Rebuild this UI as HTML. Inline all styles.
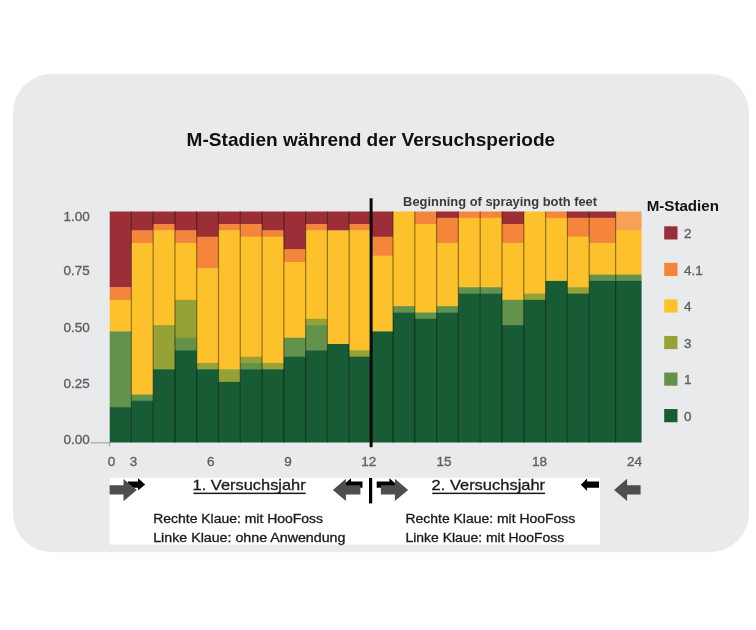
<!DOCTYPE html>
<html lang="de"><head><meta charset="utf-8"><title>M-Stadien während der Versuchsperiode</title>
<style>
html,body{margin:0;padding:0;background:#fff;}
body{width:756px;height:630px;overflow:hidden;position:relative;font-family:"Liberation Sans",sans-serif;}
svg{position:absolute;left:0;top:0;display:block;}
svg text{font-family:"Liberation Sans",sans-serif;}
</style></head><body>
<svg width="756" height="630" viewBox="0 0 756 630">
<rect x="13" y="73.8" width="736" height="478.4" rx="39" ry="39" fill="#e9eaeb"/>
<g>
<rect x="109.70" y="211.50" width="21.98" height="76.02" fill="#9c2e38"/>
<rect x="109.70" y="287.22" width="21.98" height="12.92" fill="#f4853a"/>
<rect x="109.70" y="299.84" width="21.98" height="31.85" fill="#fdc22b"/>
<rect x="109.70" y="331.39" width="21.98" height="76.02" fill="#63924b"/>
<rect x="109.70" y="407.11" width="21.98" height="35.39" fill="#185c35"/>
<rect x="131.38" y="211.50" width="22.08" height="19.23" fill="#9c2e38"/>
<rect x="131.38" y="230.43" width="22.08" height="12.92" fill="#f4853a"/>
<rect x="131.38" y="243.05" width="22.08" height="151.74" fill="#fdc22b"/>
<rect x="131.38" y="394.49" width="22.08" height="6.61" fill="#63924b"/>
<rect x="131.38" y="400.80" width="22.08" height="41.70" fill="#185c35"/>
<rect x="153.16" y="211.50" width="22.08" height="12.92" fill="#9c2e38"/>
<rect x="153.16" y="224.12" width="22.08" height="6.61" fill="#f4853a"/>
<rect x="153.16" y="230.43" width="22.08" height="94.95" fill="#fdc22b"/>
<rect x="153.16" y="325.08" width="22.08" height="44.47" fill="#96a236"/>
<rect x="153.16" y="369.25" width="22.08" height="73.25" fill="#185c35"/>
<rect x="174.94" y="211.50" width="22.08" height="19.23" fill="#9c2e38"/>
<rect x="174.94" y="230.43" width="22.08" height="12.92" fill="#f4853a"/>
<rect x="174.94" y="243.05" width="22.08" height="57.09" fill="#fdc22b"/>
<rect x="174.94" y="299.84" width="22.08" height="38.16" fill="#96a236"/>
<rect x="174.94" y="337.70" width="22.08" height="12.92" fill="#63924b"/>
<rect x="174.94" y="350.32" width="22.08" height="92.18" fill="#185c35"/>
<rect x="196.72" y="211.50" width="22.08" height="25.54" fill="#9c2e38"/>
<rect x="196.72" y="236.74" width="22.08" height="31.85" fill="#f4853a"/>
<rect x="196.72" y="268.29" width="22.08" height="94.95" fill="#fdc22b"/>
<rect x="196.72" y="362.94" width="22.08" height="6.61" fill="#96a236"/>
<rect x="196.72" y="369.25" width="22.08" height="73.25" fill="#185c35"/>
<rect x="218.50" y="211.50" width="22.08" height="12.92" fill="#9c2e38"/>
<rect x="218.50" y="224.12" width="22.08" height="6.61" fill="#f4853a"/>
<rect x="218.50" y="230.43" width="22.08" height="139.12" fill="#fdc22b"/>
<rect x="218.50" y="369.25" width="22.08" height="12.92" fill="#96a236"/>
<rect x="218.50" y="381.87" width="22.08" height="60.63" fill="#185c35"/>
<rect x="240.28" y="211.50" width="22.08" height="12.92" fill="#9c2e38"/>
<rect x="240.28" y="224.12" width="22.08" height="12.92" fill="#f4853a"/>
<rect x="240.28" y="236.74" width="22.08" height="120.19" fill="#fdc22b"/>
<rect x="240.28" y="356.63" width="22.08" height="6.61" fill="#96a236"/>
<rect x="240.28" y="362.94" width="22.08" height="6.61" fill="#63924b"/>
<rect x="240.28" y="369.25" width="22.08" height="73.25" fill="#185c35"/>
<rect x="262.06" y="211.50" width="22.08" height="19.23" fill="#9c2e38"/>
<rect x="262.06" y="230.43" width="22.08" height="6.61" fill="#f4853a"/>
<rect x="262.06" y="236.74" width="22.08" height="126.50" fill="#fdc22b"/>
<rect x="262.06" y="362.94" width="22.08" height="6.61" fill="#96a236"/>
<rect x="262.06" y="369.25" width="22.08" height="73.25" fill="#185c35"/>
<rect x="283.84" y="211.50" width="22.08" height="38.16" fill="#9c2e38"/>
<rect x="283.84" y="249.36" width="22.08" height="12.92" fill="#f4853a"/>
<rect x="283.84" y="261.98" width="22.08" height="76.02" fill="#fdc22b"/>
<rect x="283.84" y="337.70" width="22.08" height="19.23" fill="#63924b"/>
<rect x="283.84" y="356.63" width="22.08" height="85.87" fill="#185c35"/>
<rect x="305.62" y="211.50" width="22.08" height="12.92" fill="#9c2e38"/>
<rect x="305.62" y="224.12" width="22.08" height="6.61" fill="#f4853a"/>
<rect x="305.62" y="230.43" width="22.08" height="88.64" fill="#fdc22b"/>
<rect x="305.62" y="318.77" width="22.08" height="6.61" fill="#96a236"/>
<rect x="305.62" y="325.08" width="22.08" height="25.54" fill="#63924b"/>
<rect x="305.62" y="350.32" width="22.08" height="92.18" fill="#185c35"/>
<rect x="327.40" y="211.50" width="22.08" height="19.23" fill="#9c2e38"/>
<rect x="327.40" y="230.43" width="22.08" height="113.88" fill="#fdc22b"/>
<rect x="327.40" y="344.01" width="22.08" height="98.49" fill="#185c35"/>
<rect x="349.18" y="211.50" width="22.32" height="12.92" fill="#9c2e38"/>
<rect x="349.18" y="224.12" width="22.32" height="6.61" fill="#f4853a"/>
<rect x="349.18" y="230.43" width="22.32" height="120.19" fill="#fdc22b"/>
<rect x="349.18" y="350.32" width="22.32" height="6.61" fill="#96a236"/>
<rect x="349.18" y="356.63" width="22.32" height="85.87" fill="#185c35"/>
<rect x="371.20" y="211.50" width="22.10" height="25.54" fill="#9c2e38"/>
<rect x="371.20" y="236.74" width="22.10" height="19.23" fill="#f4853a"/>
<rect x="371.20" y="255.67" width="22.10" height="76.02" fill="#fdc22b"/>
<rect x="371.20" y="331.39" width="22.10" height="111.11" fill="#185c35"/>
<rect x="393.00" y="211.50" width="22.10" height="94.95" fill="#fdc22b"/>
<rect x="393.00" y="306.15" width="22.10" height="6.61" fill="#63924b"/>
<rect x="393.00" y="312.46" width="22.10" height="130.04" fill="#185c35"/>
<rect x="414.80" y="211.50" width="22.10" height="12.92" fill="#f4853a"/>
<rect x="414.80" y="224.12" width="22.10" height="88.64" fill="#fdc22b"/>
<rect x="414.80" y="312.46" width="22.10" height="6.61" fill="#63924b"/>
<rect x="414.80" y="318.77" width="22.10" height="123.73" fill="#185c35"/>
<rect x="436.60" y="211.50" width="22.10" height="6.61" fill="#9c2e38"/>
<rect x="436.60" y="217.81" width="22.10" height="25.54" fill="#f4853a"/>
<rect x="436.60" y="243.05" width="22.10" height="63.40" fill="#fdc22b"/>
<rect x="436.60" y="306.15" width="22.10" height="6.61" fill="#63924b"/>
<rect x="436.60" y="312.46" width="22.10" height="130.04" fill="#185c35"/>
<rect x="458.40" y="211.50" width="22.10" height="6.61" fill="#f4853a"/>
<rect x="458.40" y="217.81" width="22.10" height="69.71" fill="#fdc22b"/>
<rect x="458.40" y="287.22" width="22.10" height="6.61" fill="#63924b"/>
<rect x="458.40" y="293.53" width="22.10" height="148.97" fill="#185c35"/>
<rect x="480.20" y="211.50" width="22.10" height="6.61" fill="#f4853a"/>
<rect x="480.20" y="217.81" width="22.10" height="69.71" fill="#fdc22b"/>
<rect x="480.20" y="287.22" width="22.10" height="6.61" fill="#63924b"/>
<rect x="480.20" y="293.53" width="22.10" height="148.97" fill="#185c35"/>
<rect x="502.00" y="211.50" width="22.10" height="12.92" fill="#9c2e38"/>
<rect x="502.00" y="224.12" width="22.10" height="19.23" fill="#f4853a"/>
<rect x="502.00" y="243.05" width="22.10" height="57.09" fill="#fdc22b"/>
<rect x="502.00" y="299.84" width="22.10" height="25.54" fill="#63924b"/>
<rect x="502.00" y="325.08" width="22.10" height="117.42" fill="#185c35"/>
<rect x="523.80" y="211.50" width="22.10" height="82.33" fill="#fdc22b"/>
<rect x="523.80" y="293.53" width="22.10" height="6.61" fill="#96a236"/>
<rect x="523.80" y="299.84" width="22.10" height="142.66" fill="#185c35"/>
<rect x="545.60" y="211.50" width="22.10" height="6.61" fill="#f4853a"/>
<rect x="545.60" y="217.81" width="22.10" height="63.40" fill="#fdc22b"/>
<rect x="545.60" y="280.91" width="22.10" height="161.59" fill="#185c35"/>
<rect x="567.40" y="211.50" width="22.10" height="6.61" fill="#9c2e38"/>
<rect x="567.40" y="217.81" width="22.10" height="19.23" fill="#f4853a"/>
<rect x="567.40" y="236.74" width="22.10" height="50.78" fill="#fdc22b"/>
<rect x="567.40" y="287.22" width="22.10" height="6.61" fill="#96a236"/>
<rect x="567.40" y="293.53" width="22.10" height="148.97" fill="#185c35"/>
<rect x="589.20" y="211.50" width="26.70" height="6.61" fill="#9c2e38"/>
<rect x="589.20" y="217.81" width="26.70" height="25.54" fill="#f4853a"/>
<rect x="589.20" y="243.05" width="26.70" height="31.85" fill="#fdc22b"/>
<rect x="589.20" y="274.60" width="26.70" height="6.61" fill="#63924b"/>
<rect x="589.20" y="280.91" width="26.70" height="161.59" fill="#185c35"/>
<rect x="615.60" y="211.50" width="26.00" height="19.23" fill="#f6a155"/>
<rect x="615.60" y="230.43" width="26.00" height="44.47" fill="#fdc22b"/>
<rect x="615.60" y="274.60" width="26.00" height="6.61" fill="#63924b"/>
<rect x="615.60" y="280.91" width="26.00" height="161.59" fill="#185c35"/>
<rect x="130.78" y="211.5" width="1.2" height="231.0" fill="#000" fill-opacity="0.42"/>
<rect x="152.56" y="211.5" width="1.2" height="231.0" fill="#000" fill-opacity="0.42"/>
<rect x="174.34" y="211.5" width="1.2" height="231.0" fill="#000" fill-opacity="0.42"/>
<rect x="196.12" y="211.5" width="1.2" height="231.0" fill="#000" fill-opacity="0.42"/>
<rect x="217.90" y="211.5" width="1.2" height="231.0" fill="#000" fill-opacity="0.42"/>
<rect x="239.68" y="211.5" width="1.2" height="231.0" fill="#000" fill-opacity="0.42"/>
<rect x="261.46" y="211.5" width="1.2" height="231.0" fill="#000" fill-opacity="0.42"/>
<rect x="283.24" y="211.5" width="1.2" height="231.0" fill="#000" fill-opacity="0.42"/>
<rect x="305.02" y="211.5" width="1.2" height="231.0" fill="#000" fill-opacity="0.42"/>
<rect x="326.80" y="211.5" width="1.2" height="231.0" fill="#000" fill-opacity="0.42"/>
<rect x="348.58" y="211.5" width="1.2" height="231.0" fill="#000" fill-opacity="0.42"/>
<rect x="392.40" y="211.5" width="1.2" height="231.0" fill="#000" fill-opacity="0.42"/>
<rect x="414.20" y="211.5" width="1.2" height="231.0" fill="#000" fill-opacity="0.42"/>
<rect x="436.00" y="211.5" width="1.2" height="231.0" fill="#000" fill-opacity="0.42"/>
<rect x="457.80" y="211.5" width="1.2" height="231.0" fill="#000" fill-opacity="0.42"/>
<rect x="479.60" y="211.5" width="1.2" height="231.0" fill="#000" fill-opacity="0.42"/>
<rect x="501.40" y="211.5" width="1.2" height="231.0" fill="#000" fill-opacity="0.42"/>
<rect x="523.20" y="211.5" width="1.2" height="231.0" fill="#000" fill-opacity="0.42"/>
<rect x="545.00" y="211.5" width="1.2" height="231.0" fill="#000" fill-opacity="0.42"/>
<rect x="566.80" y="211.5" width="1.2" height="231.0" fill="#000" fill-opacity="0.42"/>
<rect x="588.60" y="211.5" width="1.2" height="231.0" fill="#000" fill-opacity="0.42"/>
<rect x="615.00" y="211.5" width="1.2" height="231.0" fill="#000" fill-opacity="0.42"/>
</g>
<rect x="90.4" y="442.3" width="19.6" height="1" fill="#9a9a9a"/>
<rect x="109.2" y="442.3" width="1" height="4.2" fill="#9a9a9a"/>
<rect x="369.6" y="198.3" width="3.0" height="248.9" fill="#0a0a0a"/>
<text x="186.6" y="145.9" font-size="17.8" fill="#111" font-weight="bold" text-anchor="start" textLength="368.6" lengthAdjust="spacingAndGlyphs">M-Stadien während der Versuchsperiode</text>
<text x="403.1" y="206.2" font-size="12.5" fill="#3a3a3a" font-weight="bold" text-anchor="start" textLength="194" lengthAdjust="spacingAndGlyphs">Beginning of spraying both feet</text>
<text x="646.7" y="210.6" font-size="14" fill="#111" font-weight="bold" text-anchor="start" textLength="72.2" lengthAdjust="spacingAndGlyphs">M-Stadien</text>
<text x="63.5" y="220.54999999999998" font-size="13.5" fill="#606060" font-weight="normal" text-anchor="start" textLength="26.2" lengthAdjust="spacingAndGlyphs" stroke="#606060" stroke-width="0.35">1.00</text>
<text x="63.5" y="275.45000000000005" font-size="13.5" fill="#606060" font-weight="normal" text-anchor="start" textLength="26.2" lengthAdjust="spacingAndGlyphs" stroke="#606060" stroke-width="0.35">0.75</text>
<text x="63.5" y="331.75" font-size="13.5" fill="#606060" font-weight="normal" text-anchor="start" textLength="26.2" lengthAdjust="spacingAndGlyphs" stroke="#606060" stroke-width="0.35">0.50</text>
<text x="63.5" y="387.55" font-size="13.5" fill="#606060" font-weight="normal" text-anchor="start" textLength="26.2" lengthAdjust="spacingAndGlyphs" stroke="#606060" stroke-width="0.35">0.25</text>
<text x="63.5" y="443.55" font-size="13.5" fill="#606060" font-weight="normal" text-anchor="start" textLength="26.2" lengthAdjust="spacingAndGlyphs" stroke="#606060" stroke-width="0.35">0.00</text>
<text x="111.6" y="465.8" font-size="13.5" fill="#606060" font-weight="normal" text-anchor="middle" stroke="#606060" stroke-width="0.35">0</text>
<text x="133.4" y="465.8" font-size="13.5" fill="#606060" font-weight="normal" text-anchor="middle" stroke="#606060" stroke-width="0.35">3</text>
<text x="210.7" y="465.8" font-size="13.5" fill="#606060" font-weight="normal" text-anchor="middle" stroke="#606060" stroke-width="0.35">6</text>
<text x="288.1" y="465.8" font-size="13.5" fill="#606060" font-weight="normal" text-anchor="middle" stroke="#606060" stroke-width="0.35">9</text>
<text x="368.7" y="465.8" font-size="13.5" fill="#606060" font-weight="normal" text-anchor="middle" stroke="#606060" stroke-width="0.35">12</text>
<text x="444.1" y="465.8" font-size="13.5" fill="#606060" font-weight="normal" text-anchor="middle" stroke="#606060" stroke-width="0.35">15</text>
<text x="539.4" y="465.8" font-size="13.5" fill="#606060" font-weight="normal" text-anchor="middle" stroke="#606060" stroke-width="0.35">18</text>
<text x="634.6" y="465.8" font-size="13.5" fill="#606060" font-weight="normal" text-anchor="middle" stroke="#606060" stroke-width="0.35">24</text>
<rect x="664.2" y="226.30" width="13.3" height="13.2" fill="#9c2e38"/>
<text x="683.9" y="238.10000000000002" font-size="13.5" fill="#606060" font-weight="normal" text-anchor="start" stroke="#606060" stroke-width="0.35">2</text>
<rect x="664.2" y="262.85" width="13.3" height="13.2" fill="#f4853a"/>
<text x="683.9" y="274.65000000000003" font-size="13.5" fill="#606060" font-weight="normal" text-anchor="start" stroke="#606060" stroke-width="0.35">4.1</text>
<rect x="664.2" y="299.40" width="13.3" height="13.2" fill="#fdc22b"/>
<text x="683.9" y="311.2" font-size="13.5" fill="#606060" font-weight="normal" text-anchor="start" stroke="#606060" stroke-width="0.35">4</text>
<rect x="664.2" y="335.95" width="13.3" height="13.2" fill="#96a236"/>
<text x="683.9" y="347.75" font-size="13.5" fill="#606060" font-weight="normal" text-anchor="start" stroke="#606060" stroke-width="0.35">3</text>
<rect x="664.2" y="372.50" width="13.3" height="13.2" fill="#63924b"/>
<text x="683.9" y="384.3" font-size="13.5" fill="#606060" font-weight="normal" text-anchor="start" stroke="#606060" stroke-width="0.35">1</text>
<rect x="664.2" y="409.05" width="13.3" height="13.2" fill="#185c35"/>
<text x="683.9" y="420.85" font-size="13.5" fill="#606060" font-weight="normal" text-anchor="start" stroke="#606060" stroke-width="0.35">0</text>

<rect x="109.6" y="477.8" width="490.6" height="66.9" fill="#fff"/>
<!-- black small arrows -->
<polygon points="128,481.5 138,481.5 138,478.3 145.2,484.4 138,490.4 138,487.8 128,487.8" fill="#000"/>
<polygon points="362.5,481.5 351,481.5 351,478.3 343.8,484.4 351,490.4 351,487.8 362.5,487.8" fill="#000"/>
<polygon points="376.7,481.5 389.4,481.5 389.4,478.3 396.6,484.4 389.4,490.4 389.4,487.8 376.7,487.8" fill="#000"/>
<polygon points="599,481.5 587.1,481.5 587.1,478.6 580.8,484.7 587.1,491 587.1,487.8 599,487.8" fill="#000"/>
<!-- gray big arrows -->
<polygon points="109.6,485.2 123.5,485.2 123.5,478.9 136.8,489.9 123.5,501.2 123.5,494.5 109.6,494.5" fill="#4e4e4e"/>
<polygon points="360.4,485.2 345.9,485.2 345.9,478.8 332.9,489.9 345.9,501.1 345.9,494.5 360.4,494.5" fill="#4e4e4e"/>
<polygon points="380.9,485.2 394.9,485.2 394.9,478.8 408.1,489.9 394.9,501.1 394.9,494.5 380.9,494.5" fill="#4e4e4e"/>
<polygon points="640.6,485.2 627.1,485.2 627.1,478.8 614.1,489.9 627.1,501.1 627.1,494.5 640.6,494.5" fill="#4e4e4e"/>
<rect x="369.0" y="478" width="3.2" height="25.4" fill="#000"/>
<text x="192.6" y="490.2" font-size="15.0" fill="#1a1a1a" font-weight="normal" text-anchor="start" textLength="113.1" lengthAdjust="spacingAndGlyphs" stroke="#1a1a1a" stroke-width="0.3">1. Versuchsjahr</text>
<rect x="193.5" y="492.6" width="112.2" height="1.5" fill="#1a1a1a"/>
<text x="431.6" y="490.2" font-size="15.0" fill="#1a1a1a" font-weight="normal" text-anchor="start" textLength="113.5" lengthAdjust="spacingAndGlyphs" stroke="#1a1a1a" stroke-width="0.3">2. Versuchsjahr</text>
<rect x="432.2" y="492.6" width="112.9" height="1.5" fill="#1a1a1a"/>
<text x="153.2" y="522.8" font-size="12.3" fill="#1a1a1a" font-weight="normal" text-anchor="start" textLength="169.8" lengthAdjust="spacingAndGlyphs" stroke="#1a1a1a" stroke-width="0.3">Rechte Klaue: mit HooFoss</text>
<text x="153.2" y="541.8" font-size="12.3" fill="#1a1a1a" font-weight="normal" text-anchor="start" textLength="192.2" lengthAdjust="spacingAndGlyphs" stroke="#1a1a1a" stroke-width="0.3">Linke Klaue: ohne Anwendung</text>
<text x="405.5" y="522.8" font-size="12.3" fill="#1a1a1a" font-weight="normal" text-anchor="start" textLength="169.7" lengthAdjust="spacingAndGlyphs" stroke="#1a1a1a" stroke-width="0.3">Rechte Klaue: mit HooFoss</text>
<text x="405.5" y="541.8" font-size="12.3" fill="#1a1a1a" font-weight="normal" text-anchor="start" textLength="158.6" lengthAdjust="spacingAndGlyphs" stroke="#1a1a1a" stroke-width="0.3">Linke Klaue: mit HooFoss</text>
</svg>
</body></html>
